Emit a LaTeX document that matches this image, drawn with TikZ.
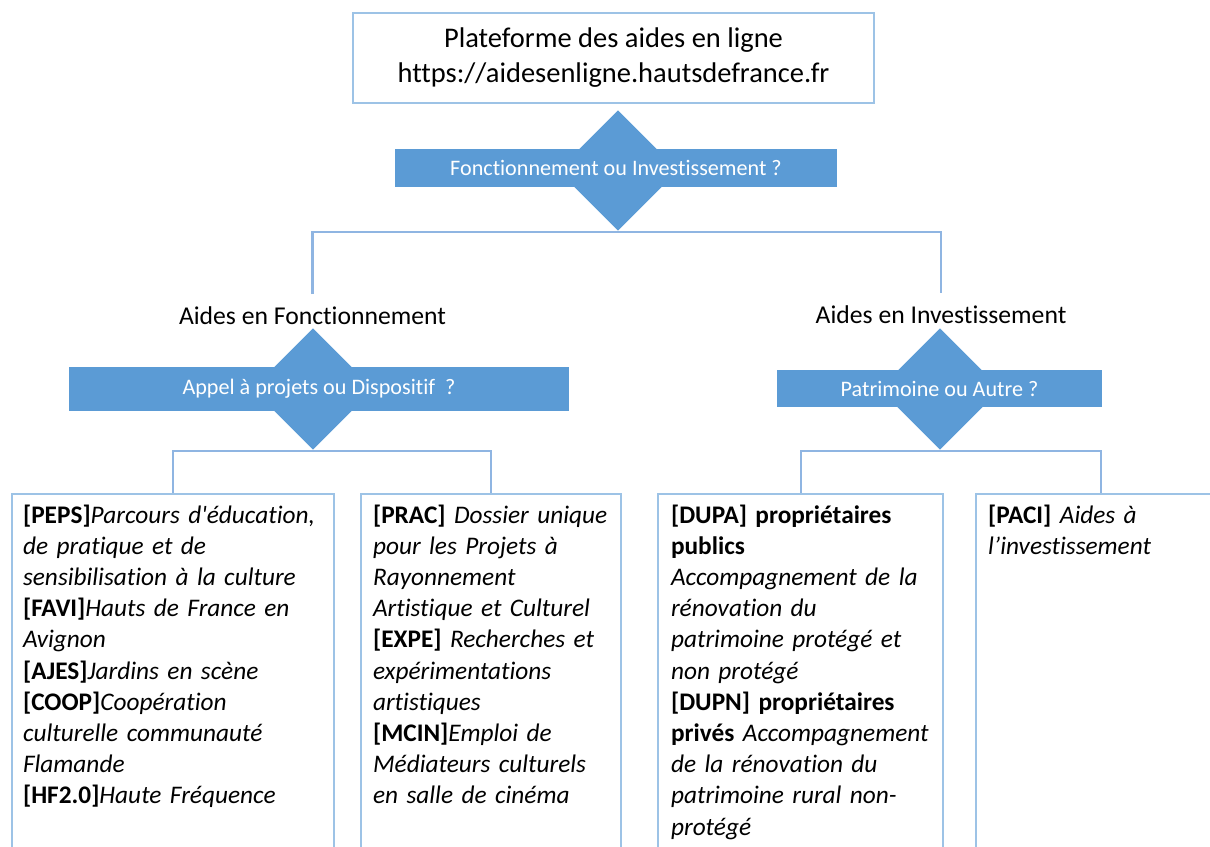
\documentclass[tikz,border=0pt]{standalone}
\usepackage{fontspec}
\setmainfont{Carlito}[Ligatures={TeXOff,NoCommon}]
\usetikzlibrary{shapes.geometric}
\definecolor{bleu}{HTML}{5B9BD5}
\definecolor{trait}{HTML}{8FB5E2}
\definecolor{bordure}{HTML}{9DC3E6}
\tikzset{
  losange/.style={diamond, fill=bleu, inner sep=0pt, minimum width=#1, minimum height=#1},
  bande/.style={fill=bleu, text=white, inner sep=0pt, font=\fontsize{6.3}{7.5}\selectfont},
  lien/.style={draw=trait, line width=0.6pt},
  titre/.style={inner sep=0pt, text height=5.2pt, text depth=0pt, outer ysep=3.6pt, font=\fontsize{7.3}{9}\selectfont},
  boite/.style={draw=bordure, line width=0.6pt, anchor=north west, align=left, inner ysep=3pt, text depth=4cm, font=\fontsize{7.2}{8.88}\selectfont},
}
\begin{document}
\begin{tikzpicture}
    \useasboundingbox (0,0) rectangle (12.1,-8.47);
    \clip (0,0) rectangle (12.1,-8.47);
    %------------Plateforme----------
    \node[draw=bordure, line width=0.6pt, minimum width=5.21cm, minimum height=0.90cm, align=center, font=\fontsize{8.1}{10}\selectfont] (plateforme) at (6.135,-0.58) {Plateforme des aides en ligne\\https://aidesenligne.hautsdefrance.fr};
    %------------Questions-----------
    \node[losange=1.21cm] (choixFI) at (6.18,-1.705) {};
    \node[bande, minimum width=4.42cm, minimum height=0.38cm] (bandeFI) at (6.16,-1.68) {Fonctionnement ou Investissement ?};
    \node[losange=1.22cm] (choixAD) at (3.13,-3.89) {};
    \node[bande, minimum width=5.00cm, minimum height=0.44cm] (bandeAD) at (3.19,-3.89) {Appel à projets ou Dispositif\ \ ?};
    \node[losange=1.22cm] (choixPA) at (9.40,-3.89) {};
    \node[bande, minimum width=3.25cm, minimum height=0.37cm] (bandePA) at (9.395,-3.885) {Patrimoine ou Autre ?};
    %------------Aides---------------
    \node[titre] (labFonct) at (3.125,-3.158) {Aides en Fonctionnement};
    \node[titre] (labInvest) at (9.41,-3.148) {Aides en Investissement};
    %------------Dispositifs---------
    \node[boite, text width=3.00cm, inner xsep=0.11cm] (boxPEPS) at (0.11,-4.93) {%
        \textbf{[PEPS]}\textit{Parcours d'éducation,}\\
        \textit{de pratique et de}\\
        \textit{sensibilisation à la culture}\\
        \textbf{[FAVI]}\textit{Hauts de France en}\\
        \textit{Avignon}\\
        \textbf{[AJES]}\textit{Jardins en scène}\\
        \textbf{[COOP]}\textit{Coopération}\\
        \textit{culturelle communauté}\\
        \textit{Flamande}\\
        \textbf{[HF2.0]}\textit{Haute Fréquence}};
    \node[boite, text width=2.36cm, inner xsep=0.12cm] (boxPRAC) at (3.60,-4.93) {%
        \textbf{[PRAC]} \textit{Dossier unique}\\
        \textit{pour les Projets à}\\
        \textit{Rayonnement}\\
        \textit{Artistique et Culturel}\\
        \textbf{[EXPE]} \textit{Recherches et}\\
        \textit{expérimentations}\\
        \textit{artistiques}\\
        \textbf{[MCIN]}\textit{Emploi de}\\
        \textit{Médiateurs culturels}\\
        \textit{en salle de cinéma}};
    \node[boite, text width=2.59cm, inner xsep=0.13cm] (boxDUPA) at (6.57,-4.93) {%
        \textbf{[DUPA] propriétaires}\\
        \textbf{publics}\\
        \textit{Accompagnement de la}\\
        \textit{rénovation du}\\
        \textit{patrimoine protégé et}\\
        \textit{non protégé}\\
        \textbf{[DUPN] propriétaires}\\
        \textbf{privés} \textit{Accompagnement}\\
        \textit{de la rénovation du}\\
        \textit{patrimoine rural non-}\\
        \textit{protégé}};
    \node[boite, text width=2.26cm, inner xsep=0.12cm] (boxPACI) at (9.75,-4.93) {%
        \textbf{[PACI]} \textit{Aides à}\\
        \textit{l’investissement}};
    %------------Liens---------------
    \draw[lien] (labFonct.north) |- (choixFI.south) -| (labInvest.north);
    \draw[lien] (boxPEPS.north) |- (choixAD.south) -| (boxPRAC.north);
    \draw[lien] (boxDUPA.north) |- (choixPA.south) -| (boxPACI.north);
\end{tikzpicture}
\end{document}
